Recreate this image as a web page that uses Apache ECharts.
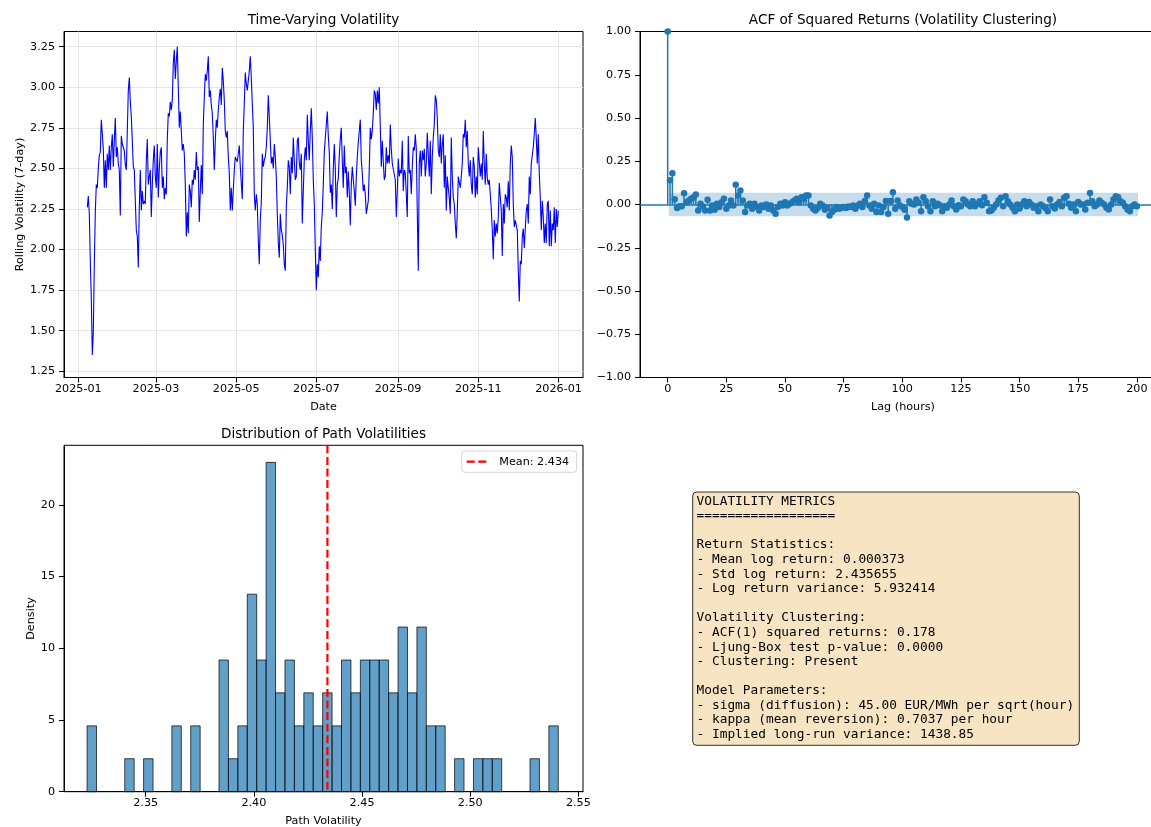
<!DOCTYPE html>
<html><head><meta charset="utf-8">
<script src="https://cdn.jsdelivr.net/npm/echarts@6/dist/echarts.min.js"></script>
<style>html,body{margin:0;padding:0;background:#fff}#c{width:1151px;height:827px}</style>
</head><body><div id="c"></div>
<script>
// ---------------- DATA ----------------
const volStart = '2025-01-07T20:00:00Z';
const volEnd = '2025-12-31T18:00:00Z';
const volValues = [
2.26,2.33,2.22,1.93,1.70,1.35,1.49,1.91,2.23,2.40,2.38,2.50,2.58,2.60,2.80,2.80,2.62,2.38,2.55,2.38,
2.59,2.49,2.64,2.49,2.63,2.71,2.51,2.67,2.81,2.57,2.63,2.53,2.49,2.21,2.70,2.65,2.66,2.61,2.52,2.49,
2.73,2.98,3.06,2.91,2.82,2.67,2.51,2.49,2.30,2.12,2.08,1.89,2.26,2.49,2.24,2.36,2.28,2.30,2.28,2.55,
2.68,2.40,2.45,2.49,2.20,2.40,2.55,2.64,2.45,2.38,2.65,2.32,2.50,2.60,2.63,2.38,2.45,2.31,2.38,2.34,
2.68,2.84,2.82,2.91,2.86,2.92,3.15,3.23,3.05,3.16,3.25,3.00,2.75,2.85,2.73,2.61,2.65,2.59,2.40,2.08,
2.23,2.10,2.40,2.36,2.26,2.43,2.40,2.49,2.43,2.60,2.49,2.51,2.17,2.36,2.52,2.34,2.77,2.94,3.08,3.04,
3.10,3.19,2.94,2.98,2.89,2.84,2.69,2.49,2.67,2.80,2.75,2.86,2.94,2.99,2.89,3.12,3.04,2.92,2.73,2.69,
2.73,2.57,2.47,2.24,2.38,2.24,2.23,2.49,2.57,2.58,2.54,2.59,2.64,2.51,2.41,2.31,2.73,2.90,3.09,3.02,
2.98,3.04,3.10,3.19,3.06,2.90,2.75,2.34,2.24,2.34,2.28,2.06,1.91,2.18,2.29,2.59,2.51,2.55,2.57,2.63,
2.75,2.95,2.82,2.67,2.53,2.57,2.50,2.65,2.57,2.45,2.22,2.04,1.95,2.22,2.12,2.09,2.03,1.91,1.87,2.26,
2.38,2.55,2.51,2.34,2.57,2.47,2.69,2.55,2.43,2.45,2.67,2.69,2.53,2.49,2.59,2.16,2.36,2.55,2.63,2.55,
2.83,2.67,2.55,2.73,2.87,
2.69,2.43,2.28,2.00,1.75,1.91,1.83,2.02,1.93,2.14,2.23,2.40,2.60,2.61,2.77,2.85,2.70,2.60,2.35,2.40,
2.25,2.50,2.65,2.50,2.20,2.40,2.44,2.58,2.68,2.75,2.55,2.38,2.64,2.47,2.51,2.32,2.48,2.35,2.15,2.40,
2.51,2.43,2.36,2.27,2.45,2.57,2.66,2.73,2.80,2.55,2.47,2.36,2.40,2.34,2.22,2.22,2.30,2.50,2.75,2.68,
2.73,2.84,2.98,2.96,2.86,2.98,2.90,3.00,2.76,2.51,2.67,2.54,2.43,2.45,2.63,2.53,2.58,2.53,2.77,2.62,
2.53,2.54,2.53,2.43,2.20,2.36,2.56,2.45,2.49,2.47,2.67,2.36,2.49,2.47,2.34,2.20,2.70,2.47,2.49,2.34,
2.51,2.63,2.61,2.71,2.62,2.23,1.87,2.53,2.61,2.45,2.61,2.55,2.62,2.45,2.53,2.72,2.71,2.45,2.67,2.34,
2.57,2.69,2.77,2.95,2.92,2.81,2.61,2.57,2.71,2.53,2.65,2.71,2.38,2.58,2.24,2.45,2.38,2.32,2.22,2.69,
2.45,2.32,2.28,2.16,2.07,2.23,2.45,2.45,2.38,2.45,2.53,2.71,2.69,2.80,2.63,2.73,2.53,2.45,2.55,2.40,
2.34,2.57,2.51,2.32,2.45,2.34,2.63,2.64,2.45,2.53,2.43,2.73,2.53,2.40,2.59,2.44,2.40,2.43,2.44,2.25,
2.12,1.94,2.18,2.08,2.16,2.10,2.20,2.41,2.42,2.24,1.96,2.28,2.16,2.34,2.32,2.26,2.42,2.24,2.53,2.64,
2.57,2.28,2.14,2.18,2.17,2.12,1.87,1.68,1.93,1.91,2.08,2.13,2.01,2.13,2.24,2.28,2.16,2.45,2.34,2.53,
2.53,2.63,2.71,2.81,2.69,2.53,2.71,2.47,2.32,2.12,2.30,2.20,2.04,2.16,2.04,2.28,2.30,2.02,2.24,2.02,
2.16,2.12,2.26,2.04,2.25,2.14,2.24
];
const dateTicks = ['2025-01-01','2025-03-01','2025-05-01','2025-07-01','2025-09-01','2025-11-01','2026-01-01'];
const volYTicks = [1.25,1.50,1.75,2.00,2.25,2.50,2.75,3.00,3.25];

const acfValues = [
1.0,0.14,0.18,0.03,-0.02,-0.01,-0.01,0.065,0.013,0.023,0.033,0.04,0.058,-0.035,0.004,-0.012,-0.035,0.027,-0.035,-0.006,
-0.03,0.004,-0.015,0.013,0.033,-0.025,-0.006,0.023,-0.006,0.114,0.052,0.081,0.023,-0.044,-0.006,0.004,-0.025,0.004,-0.015,-0.035,
-0.006,-0.015,0.0,-0.025,-0.006,-0.035,-0.054,-0.015,0.004,-0.006,0.013,-0.006,0.004,0.013,0.023,0.033,0.013,0.042,0.033,0.052,
0.052,-0.006,-0.025,-0.035,-0.02,0.004,-0.006,-0.03,-0.02,-0.064,-0.044,-0.03,-0.015,-0.025,-0.02,-0.015,-0.02,-0.012,-0.015,-0.006,
-0.025,-0.006,0.004,-0.015,0.02,0.052,-0.006,-0.025,0.004,-0.044,-0.006,-0.044,-0.015,0.02,-0.054,0.02,0.071,-0.025,0.023,-0.006,
-0.015,-0.03,-0.075,0.019,0.005,0.0,0.029,0.01,-0.039,0.042,0.019,-0.01,-0.039,0.019,-0.01,0.004,-0.004,-0.039,-0.01,-0.019,
0.0,0.023,-0.01,-0.029,-0.004,-0.01,0.029,0.019,0.0,-0.01,0.019,-0.01,0.004,0.019,-0.004,0.042,0.01,-0.039,-0.035,-0.019,
0.0,0.023,0.039,-0.01,0.048,0.019,0.0,-0.019,-0.039,0.0,-0.023,0.0,0.019,-0.01,0.015,0.0,-0.019,-0.01,-0.039,0.0,
-0.01,-0.02,-0.039,0.029,-0.01,-0.023,0.0,0.015,-0.01,0.039,0.048,0.004,-0.019,0.0,-0.039,0.015,0.0,0.0,-0.029,0.01,
0.067,0.019,-0.01,0.0,0.023,0.01,0.0,-0.019,-0.029,0.0,0.029,0.048,0.042,0.019,0.01,-0.01,-0.029,-0.039,-0.01,0.0,-0.01
];
const acfConfidence = 0.068;
const acfXTicks = [0,25,50,75,100,125,150,175,200];
const acfYTicks = [-1.00,-0.75,-0.50,-0.25,0.00,0.25,0.50,0.75,1.00];

const histBinStart = 2.3229;
const histBinWidth = 0.004356;
const histDensity = [
4.59,0,0,0,2.30,0,2.30,0,0,4.59,
0,4.59,0,0,9.18,2.30,4.59,13.77,9.18,22.96,
6.89,9.18,4.59,6.89,4.59,6.89,4.59,9.18,6.89,9.18,
9.18,9.18,6.89,11.48,6.89,11.48,4.59,4.59,0,2.30,
0,2.30,2.30,2.30,0,0,0,2.30,0,4.59
];
const histXTicks = [2.35,2.40,2.45,2.50,2.55];
const histYTicks = [0,5,10,15,20];
const meanVolatility = 2.434;

const metricsLines = [
'VOLATILITY METRICS',
'==================',
'',
'Return Statistics:',
'- Mean log return: 0.000373',
'- Std log return: 2.435655',
'- Log return variance: 5.932414',
'',
'Volatility Clustering:',
'- ACF(1) squared returns: 0.178',
'- Ljung-Box test p-value: 0.0000',
'- Clustering: Present',
'',
'Model Parameters:',
'- sigma (diffusion): 45.00 EUR/MWh per sqrt(hour)',
'- kappa (mean reversion): 0.7037 per hour',
'- Implied long-run variance: 1438.85'
];

// ---------------- BUILD ----------------
const FONT = "'DejaVu Sans', sans-serif";
const MONO = "'DejaVu Sans Mono', monospace";
const t0 = Date.parse(volStart), t1 = Date.parse(volEnd);
const volStep = (t1 - t0) / (volValues.length - 1);
const volData = volValues.map((v, i) => [t0 + i * volStep, v]);
const dateTickVals = dateTicks.map(d => Date.parse(d + 'T00:00:00Z'));
const fmtYM = v => { const d = new Date(v); return d.getUTCFullYear() + '-' + String(d.getUTCMonth() + 1).padStart(2, '0'); };
const fmt2 = v => v.toFixed(2);
const fmtSigned2 = v => (v < -1e-9 ? '\u2212' + Math.abs(v).toFixed(2) : Math.abs(v).toFixed(2));
const fmtInt = v => String(Math.round(v));

const acfData = acfValues.map((v, i) => [i, v]);
const histData = histDensity.map((d, i) => [histBinStart + i * histBinWidth, histBinStart + (i + 1) * histBinWidth, d]).filter(r => r[2] > 0);

function mkAxis(extra, ticks, fmt, isY) {
  return Object.assign({
    type: 'value',
    axisLine: { show: true, onZero: false, lineStyle: { color: '#000', width: 1 } },
    axisTick: { show: true, inside: false, length: 5, customValues: ticks, lineStyle: { color: '#000', width: 1 } },
    axisLabel: { show: true, customValues: ticks, formatter: fmt, color: '#000', fontFamily: FONT, fontSize: 11.2, margin: isY ? 9 : 6 },
    splitLine: { show: false },
    minorTick: { show: false }
  }, extra);
}
const gridLine = { show: true, lineStyle: { color: '#e6e6e6', width: 1 } };

const grids = [
  { left: 64, top: 31.5, width: 519, height: 346, show: true, borderColor: '#000', borderWidth: 1, containLabel: false, outerBoundsMode: 'none' },
  { left: 640, top: 31.5, width: 526, height: 346, show: true, borderColor: '#000', borderWidth: 1, containLabel: false, outerBoundsMode: 'none' },
  { left: 64, top: 445.3, width: 519, height: 346.4, show: true, borderColor: '#000', borderWidth: 1, containLabel: false, outerBoundsMode: 'none' }
];

const xAxes = [
  mkAxis({ gridIndex: 0, min: Date.UTC(2024, 11, 21, 3), max: Date.UTC(2026, 0, 19, 13), splitLine: gridLine }, dateTickVals, fmtYM, false),
  mkAxis({ gridIndex: 1, min: -11.8, max: 212.4 }, acfXTicks, fmtInt, false),
  mkAxis({ gridIndex: 2, min: 2.31224, max: 2.55213 }, histXTicks, fmt2, false)
];
const yAxes = [
  mkAxis({ gridIndex: 0, min: 1.212, max: 3.343, splitLine: gridLine }, volYTicks, fmt2, true),
  mkAxis({ gridIndex: 1, min: -1, max: 1 }, acfYTicks, fmtSigned2, true),
  mkAxis({ gridIndex: 2, min: 0, max: 24.15 }, histYTicks, fmtInt, true)
];

const series = [
  { type: 'line', xAxisIndex: 0, yAxisIndex: 0, data: volData, showSymbol: false, symbol: 'none', sampling: null,
    lineStyle: { color: '#0000ff', width: 1.1 }, clip: true, z: 3 },
  { type: 'custom', xAxisIndex: 1, yAxisIndex: 1, data: [[1 - 0.5, acfValues.length - 1 + 0.5, acfConfidence]],
    encode: { x: [0, 1], y: 2 },
    renderItem: (p, api) => {
      const a = api.coord([api.value(0), api.value(2)]);
      const b = api.coord([api.value(1), -api.value(2)]);
      return { type: 'rect', shape: { x: a[0], y: a[1], width: b[0] - a[0], height: b[1] - a[1] }, style: { fill: 'rgba(31,119,180,0.25)' } };
    }, z: 2 },
  { type: 'custom', xAxisIndex: 1, yAxisIndex: 1, data: acfData, encode: { x: 0, y: 1 },
    renderItem: (p, api) => {
      const a = api.coord([api.value(0), 0]);
      const b = api.coord([api.value(0), api.value(1)]);
      return { type: 'line', shape: { x1: a[0], y1: a[1], x2: b[0], y2: b[1] }, style: { stroke: '#1f77b4', lineWidth: 1.5 } };
    }, z: 3 },
  { type: 'scatter', xAxisIndex: 1, yAxisIndex: 1, data: acfData, symbol: 'circle', symbolSize: 6.5,
    itemStyle: { color: '#1f77b4', opacity: 1 }, z: 4,
    markLine: { silent: true, symbol: 'none', label: { show: false }, animation: false,
      lineStyle: { color: '#1f77b4', width: 1.6, type: 'solid' }, data: [{ yAxis: 0 }] } },
  { type: 'custom', xAxisIndex: 2, yAxisIndex: 2, data: histData, encode: { x: [0, 1], y: 2 },
    renderItem: (p, api) => {
      const a = api.coord([api.value(0), api.value(2)]);
      const b = api.coord([api.value(1), 0]);
      return { type: 'rect', shape: { x: a[0], y: a[1], width: b[0] - a[0], height: b[1] - a[1] },
        style: { fill: 'rgba(31,119,180,0.7)', stroke: 'rgba(0,0,0,0.7)', lineWidth: 1 } };
    }, z: 3 },
  { type: 'custom', xAxisIndex: 2, yAxisIndex: 2, data: [[meanVolatility]], encode: { x: 0 }, z: 5,
    renderItem: (p, api) => {
      const cs = p.coordSys;
      const px = api.coord([api.value(0), 0])[0];
      return { type: 'line', shape: { x1: px, y1: cs.y, x2: px, y2: cs.y + cs.height },
        style: { stroke: '#ff0000', lineWidth: 2.2, lineDash: [8, 3.6] } };
    } }
];

function txt(text, x, y, size, opts) {
  return Object.assign({ type: 'text', x: x, y: y, silent: true, z: 10,
    style: { text: text, fill: '#000', font: size + 'px ' + FONT, textAlign: 'center', textVerticalAlign: 'middle', align: 'center', verticalAlign: 'middle' } }, opts || {});
}

const graphic = [
  txt('Time-Varying Volatility', 323.5, 20.5, 13.6),
  txt('ACF of Squared Returns (Volatility Clustering)', 903, 20.5, 13.6),
  txt('Distribution of Path Volatilities', 323.5, 434, 13.6),
  txt('Date', 323.5, 407.5, 11.2),
  txt('Lag (hours)', 903, 407.5, 11.2),
  txt('Path Volatility', 323.5, 821.5, 11.2),
  txt('Rolling Volatility (7-day)', 19.7, 204.5, 11.2, { rotation: Math.PI / 2 }),
  txt('Density', 30.8, 618.5, 11.2, { rotation: Math.PI / 2 }),
  // legend
  { type: 'rect', silent: true, z: 10, shape: { x: 461.7, y: 451, width: 115, height: 21.3, r: 3 },
    style: { fill: 'rgba(255,255,255,0.8)', stroke: 'rgba(204,204,204,0.8)', lineWidth: 1 } },
  { type: 'line', silent: true, z: 11, shape: { x1: 466.7, y1: 461.7, x2: 489, y2: 461.7 },
    style: { stroke: '#ff0000', lineWidth: 2.2, lineDash: [8, 3.6] } },
  { type: 'text', silent: true, z: 11, x: 499.3, y: 461.7,
    style: { text: 'Mean: 2.434', fill: '#000', font: '11.2px ' + FONT, textAlign: 'left', textVerticalAlign: 'middle', align: 'left', verticalAlign: 'middle' } },
  // metrics box
  { type: 'rect', silent: true, z: 10, shape: { x: 692.7, y: 492, width: 386.6, height: 253.3, r: 4 },
    style: { fill: 'rgb(246,228,194)', stroke: 'rgba(0,0,0,0.8)', lineWidth: 1 } },
  { type: 'text', silent: true, z: 11, x: 696.6, y: 494,
    style: { text: metricsLines.join('\n'), fill: '#000', font: '12.8px ' + MONO, lineHeight: 14.59,
      textAlign: 'left', textVerticalAlign: 'top', align: 'left', verticalAlign: 'top' } }
];

const chart = echarts.init(document.getElementById('c'), null, { renderer: 'canvas', width: 1151, height: 827 });
chart.setOption({
  animation: false,
  backgroundColor: '#ffffff',
  grid: grids,
  xAxis: xAxes,
  yAxis: yAxes,
  series: series,
  graphic: graphic
});
</script>
</body></html>
